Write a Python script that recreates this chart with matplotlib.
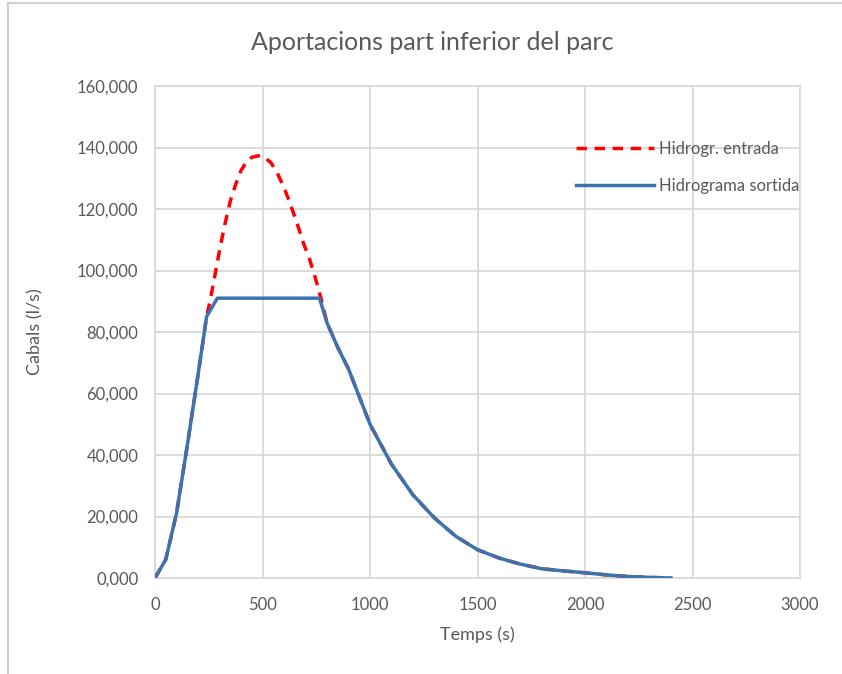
import matplotlib
matplotlib.use('Agg')
import matplotlib.pyplot as plt
from matplotlib.lines import Line2D
from matplotlib.ticker import FuncFormatter

plt.rcParams['font.family'] = ['Lato', 'DejaVu Sans']

# Hidrograma de sortida (l/s)
temps_sortida = [0, 50, 100, 150, 200, 240, 290, 765, 800, 850, 900, 950, 1000, 1100, 1200,
                 1300, 1400, 1500, 1600, 1700, 1800, 1900, 2000, 2100, 2200, 2300, 2400]
cabal_sortida = [0, 6000, 21000, 43000, 66000, 85000, 91000, 91000, 83000, 75000, 68000, 59000,
                 50000, 37000, 27000, 19500, 13500, 9200, 6500, 4500, 3000, 2300, 1700, 1000,
                 500, 200, 0]

# Hidrograma d'entrada (l/s)
temps_entrada = [0, 50, 100, 150, 200, 240, 250, 275, 300, 325, 350, 375, 400, 425, 450, 480,
                 510, 540, 570, 600, 630, 660, 690, 720, 750, 770, 800, 850, 900, 950, 1000,
                 1100, 1200, 1300, 1400, 1500, 1600, 1700, 1800, 1900, 2000, 2100, 2200, 2300,
                 2400]
cabal_entrada = [0, 6000, 21000, 43000, 66000, 85000, 88000, 97000, 106500, 115000, 122500,
                 128000, 132500, 135300, 136800, 137300, 136800, 135000, 131500, 127000,
                 121500, 115500, 109000, 103500, 96500, 91500, 83000, 75000, 68000, 59000,
                 50000, 37000, 27000, 19500, 13500, 9200, 6500, 4500, 3000, 2300, 1700, 1000,
                 500, 200, 0]

gris = '#595959'
fig = plt.figure(figsize=(8.42, 6.74), dpi=100)
ax = fig.add_axes([155/842, 1 - 578/674, 645/842, 492/674])

ax.plot(temps_entrada, cabal_entrada, color='#ff0000', lw=2.5, ls=(0, (3, 2.2)),
        label='Hidrogr. entrada', zorder=3)
ax.plot(temps_sortida, cabal_sortida, color='#3b73ae', lw=2.5, label='Hidrograma sortida', zorder=4)

ax.set_xlim(0, 3000)
ax.set_ylim(0, 160000)
ax.set_xticks(range(0, 3001, 500))
ax.set_yticks(range(0, 160001, 20000))
ax.yaxis.set_major_formatter(FuncFormatter(lambda v, p: f'{v/1000:.3f}'.replace('.', ',')))
ax.grid(True, color='#d9d9d9', lw=1.3)
ax.set_axisbelow(True)
for s in ax.spines.values():
    s.set_color('#d9d9d9')
    s.set_linewidth(1.3)
ax.tick_params(length=0, labelsize=12, colors=gris)
ax.tick_params(axis='x', pad=14)
ax.tick_params(axis='y', pad=12)

ax.set_xlabel('Temps (s)', fontsize=13, color=gris, labelpad=9)
ax.set_ylabel('Cabals (l/s)', fontsize=13, color=gris, labelpad=24)
fig.text(432/842, 1 - 42/674, 'Aportacions part inferior del parc', fontsize=18, color=gris,
         ha='center', va='center')

ax.legend(loc='upper right', bbox_to_anchor=(1.012, 0.905), frameon=False, fontsize=12,
          labelcolor=gris, handlelength=4.7, handletextpad=0.3, labelspacing=1.25,
          borderpad=0)

# marc del gràfic
fig.add_artist(Line2D([8/842, 8/842], [0, 1 - 3/674], color='#d0d0d0', lw=1.5))
fig.add_artist(Line2D([8/842, 1], [1 - 3/674, 1 - 3/674], color='#d0d0d0', lw=1.5))

fig.savefig('out.png', dpi=100)
